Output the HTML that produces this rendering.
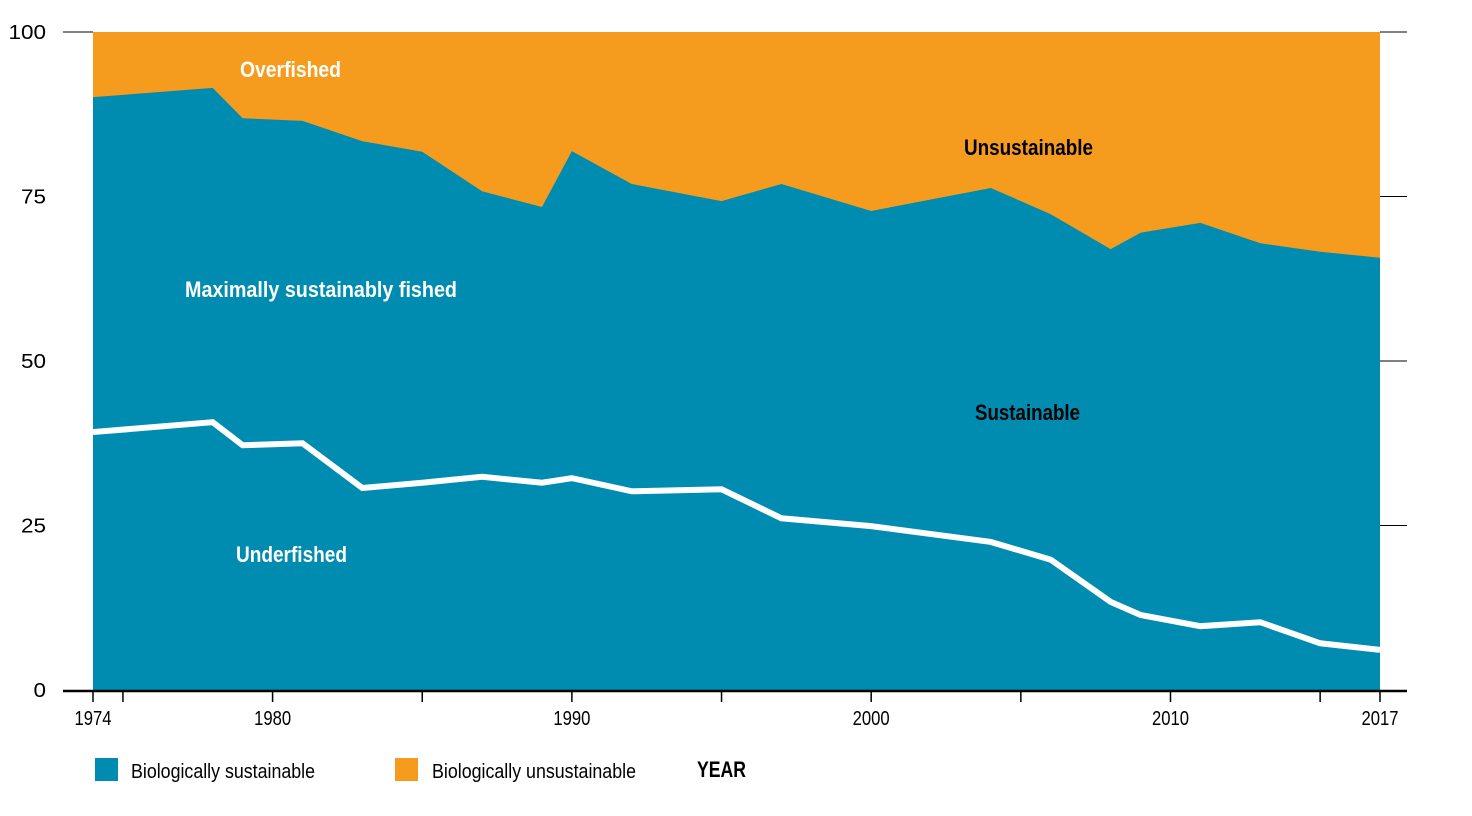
<!DOCTYPE html>
<html><head><meta charset="utf-8">
<style>
html,body{margin:0;padding:0;background:#fff;}
body{width:1472px;height:811px;overflow:hidden;font-family:"Liberation Sans Narrow","Liberation Sans",sans-serif;}
svg text{font-family:"Liberation Sans Narrow","Liberation Sans",sans-serif;}
</style></head>
<body>
<svg id="chart" width="1472" height="811" xmlns="http://www.w3.org/2000/svg"></svg>
<script>
const years=[1974,1978,1979,1981,1983,1985,1987,1989,1990,1992,1995,1997,2000,2004,2006,2008,2009,2011,2013,2015,2017];
const sustainable=[90.1,91.5,86.9,86.5,83.4,81.8,75.8,73.4,81.9,76.9,74.3,76.9,72.8,76.3,72.3,67.0,69.5,71.0,67.9,66.6,65.7];
const underfished=[39.2,40.7,37.2,37.5,30.7,31.5,32.4,31.5,32.2,30.2,30.5,26.1,24.9,22.5,19.8,13.4,11.4,9.7,10.3,7.1,6.1];
const yTicks=[0,25,50,75,100];
const xLabels=[1974,1980,1990,2000,2010,2017];
const xMinor=[1975,1985,1995,2005,2015];

const NS="http://www.w3.org/2000/svg";
const svg=document.getElementById('chart');
const x0=93,x1=1380,yTop=32,yBot=690;
const xs=y=>x0+(y-1974)/(2017-1974)*(x1-x0);
const ys=v=>yBot-v/100*(yBot-yTop);
function mk(tag,attrs,parent){const e=document.createElementNS(NS,tag);for(const k in attrs)e.setAttribute(k,attrs[k]);(parent||svg).appendChild(e);return e;}
function fit(t,w){t.setAttribute('textLength',w);t.setAttribute('lengthAdjust','spacingAndGlyphs');}

const ob=mk('rect',{x:x0,y:yTop,width:x1-x0,height:yBot-yTop,fill:'#F59C1F'});


let d='M'+xs(years[0])+','+yBot;
years.forEach((yr,i)=>{d+=' L'+xs(yr)+','+ys(sustainable[i]);});
d+=' L'+xs(years[years.length-1])+','+yBot+' Z';
const sa=mk('path',{d:d,fill:'#008CB0'});


let ld='';
years.forEach((yr,i)=>{ld+=(i?' L':'M')+xs(yr)+','+ys(underfished[i]);});
const ul=mk('path',{d:ld,fill:'none',stroke:'#fff','stroke-width':6,'stroke-linejoin':'miter'});



yTicks.forEach(v=>{
  const t=mk('text',{x:46,y:ys(v)+7,'text-anchor':'end','font-size':20,fill:'#000'});
  t.textContent=v;
  fit(t,String(v).length*12.5);
  
  
  if(v>0){
    const g=mk('line',{x1:x1,x2:1407,y1:ys(v),y2:ys(v),stroke:'#000','stroke-width':1});
    
    
  }
});
const g2=mk('line',{x1:63,x2:x0,y1:ys(100),y2:ys(100),stroke:'#000','stroke-width':1});



const ax=mk('line',{x1:63,x2:1407,y1:yBot+1,y2:yBot+1,stroke:'#000','stroke-width':2.5});


xLabels.concat(xMinor).forEach(yr=>{
  const tk=mk('line',{x1:xs(yr),x2:xs(yr),y1:yBot,y2:yBot+12,stroke:'#000','stroke-width':1.5});
  
  
});
xLabels.forEach(yr=>{
  const t=mk('text',{x:xs(yr),y:725,'text-anchor':'middle','font-size':20,fill:'#000'});
  t.textContent=yr;
  fit(t,37);
  
  
});

const labels=[["Overfished",240,77,'#fff','overfished-label',101],["Unsustainable",964,155,'#000','unsustainable-label',129],["Maximally sustainably fished",185,297,'#fff','max-sustainable-label',272],["Sustainable",975,420,'#000','sustainable-label',105],["Underfished",236,562,'#fff','underfished-label',111]];
labels.forEach(l=>{
  const t=mk('text',{x:l[1],y:l[2],'font-size':22,'font-weight':'bold',fill:l[3]});
  t.textContent=l[0];
  fit(t,l[5]);
  
  
});

const ls=mk('rect',{x:95,y:758,width:23,height:23,fill:'#008CB0'});


const lt=mk('text',{x:131,y:778,'font-size':20,fill:'#000'});
lt.textContent='Biologically sustainable';
fit(lt,184);


const ls2=mk('rect',{x:395,y:758,width:23,height:23,fill:'#F59C1F'});


const lt2=mk('text',{x:432,y:778,'font-size':20,fill:'#000'});
lt2.textContent='Biologically unsustainable';
fit(lt2,204);


const xt=mk('text',{x:697,y:777,'font-size':22,'font-weight':'bold',fill:'#000'});
xt.textContent='YEAR';
fit(xt,49);


</script>
</body></html>
